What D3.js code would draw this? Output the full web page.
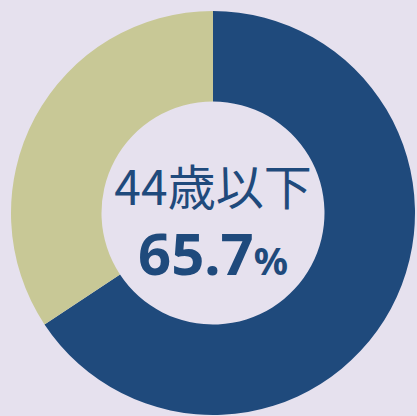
<!DOCTYPE html>
<html>
<head>
<meta charset="utf-8">
<script src="https://cdn.jsdelivr.net/npm/d3@7"></script>
<style>
  html, body { margin: 0; padding: 0; background: #e6e1ee; }
  svg { display: block; }
</style>
</head>
<body>
<svg id="chart"></svg>
<script>
// ----- Data -----
const categories = ["44歳以下", "45歳以上"];
const values = [65.7, 34.3];
const colors = ["#1f4a7c", "#c8c896"];
const centerLabel = "44歳以下";
const centerValue = "65.7";

// ----- Constants -----
const size = { width: 417, height: 416 };
const cx = 213, cy = 213;
const outerR = 202, innerR = 111.5;

const svg = d3.select("#chart")
    .attr("width", size.width)
    .attr("height", size.height);

svg.append("rect")
    .attr("width", size.width)
    .attr("height", size.height)
    .attr("fill", "#e6e1ee");

const g = svg.append("g")
    .attr("transform", `translate(${cx},${cy})`);

const pie = d3.pie().sort(null).value(d => d.value);
const arc = d3.arc().innerRadius(innerR).outerRadius(outerR);

const data = categories.map((c, i) => ({ name: c, value: values[i], color: colors[i] }));

g.selectAll("path")
    .data(pie(data))
    .join("path")
    .attr("d", arc)
    .attr("fill", d => d.data.color);

// ----- Center text -----
g.append("text")
    .attr("text-anchor", "middle")
    .attr("y", -8)
    .attr("fill", "#1f4a7c")
    .style("font-family", "'Noto Sans CJK JP', 'Noto Sans', sans-serif")
    .style("font-size", "48px")
    .text(centerLabel);

const valText = g.append("text")
    .attr("text-anchor", "middle")
    .attr("y", 62)
    .attr("fill", "#1f4a7c")
    .style("font-family", "'Noto Sans', 'Open Sans', sans-serif")
    .style("font-weight", "bold");

valText.append("tspan")
    .style("font-size", "58px")
    .text(centerValue);

valText.append("tspan")
    .style("font-size", "38px")
    .text("%");
</script>
</body>
</html>
